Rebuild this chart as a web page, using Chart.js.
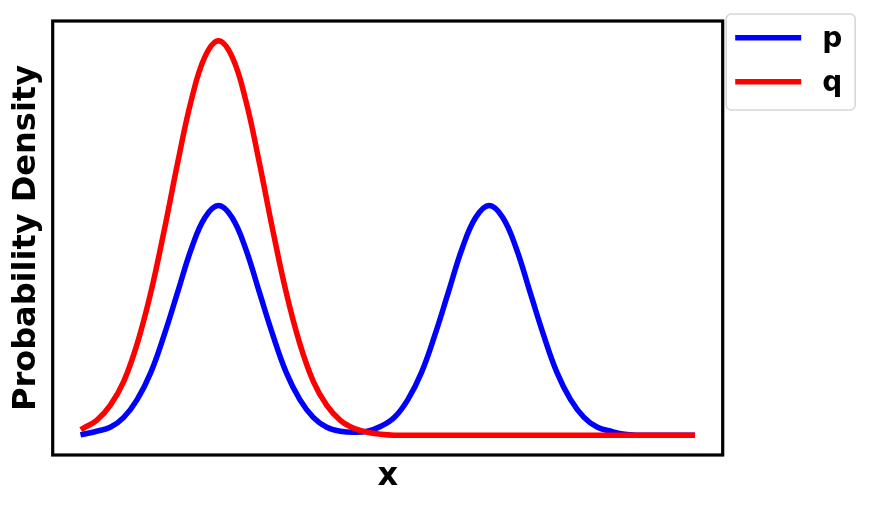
<!DOCTYPE html>
<html>
<head>
<meta charset="utf-8">
<title>p vs q</title>
<script src="https://cdn.jsdelivr.net/npm/chart.js@4/dist/chart.umd.min.js"></script>
<style>
  html, body { margin: 0; padding: 0; background: #fff; }
  #wrap { width: 869px; height: 509px; }
</style>
</head>
<body>
<div id="wrap"><canvas id="chart" width="869" height="509"></canvas></div>
<script>
// ---- data ----
const xValues = [
  0, 0.5, 1, 1.5, 2, 2.5, 3, 3.5, 4, 4.5,
  5, 5.5, 6, 6.5, 7, 7.5, 8, 8.5, 9, 9.5,
  10, 10.5, 11, 11.5, 12, 12.5, 13, 13.5, 14, 14.5,
  15, 15.5, 16, 16.5, 17, 17.5, 18, 18.5, 19, 19.5,
  20, 20.5, 21, 21.5, 22, 22.5
];
const pValues = [
  0.001, 0.004, 0.008, 0.018, 0.036, 0.063, 0.101, 0.144, 0.187, 0.218,
  0.230, 0.218, 0.187, 0.144, 0.101, 0.063, 0.036, 0.018, 0.008, 0.004,
  0.003, 0.004, 0.009, 0.018, 0.036, 0.063, 0.101, 0.144, 0.187, 0.218,
  0.230, 0.218, 0.187, 0.144, 0.101, 0.063, 0.036, 0.018, 0.008, 0.004,
  0.001, 0.000, 0.000, 0.000, 0.000, 0.000
];
const qValues = [
  0.007, 0.015, 0.030, 0.054, 0.092, 0.143, 0.206, 0.274, 0.336, 0.379,
  0.395, 0.379, 0.336, 0.274, 0.206, 0.143, 0.092, 0.054, 0.030, 0.015,
  0.007, 0.003, 0.001, 0.000, 0.000, 0.000, 0.000, 0.000, 0.000, 0.000,
  0.000, 0.000, 0.000, 0.000, 0.000, 0.000, 0.000, 0.000, 0.000, 0.000,
  0.000, 0.000, 0.000, 0.000, 0.000, 0.000
];
const seriesLabels = ['p', 'q'];
const seriesColors = ['#0000ff', '#ff0000'];
const xTitle = 'x';
const yTitle = 'Probability Density';

const FONT = '"DejaVu Sans", "Liberation Sans", sans-serif';

// matplotlib-like 5% margins
const xMin = Math.min(...xValues), xMax = Math.max(...xValues);
const yTop = Math.max(...pValues, ...qValues);
const xPad = (xMax - xMin) * 0.05;
const yPad = yTop * 0.05;

function toPoints(ys) {
  return xValues.map((x, i) => ({ x: x, y: ys[i] }));
}

// black box round the plot area
const framePlugin = {
  id: 'frame',
  afterDatasetsDraw(chart) {
    const { ctx, chartArea: a } = chart;
    ctx.save();
    ctx.strokeStyle = '#000';
    ctx.lineWidth = 3.2;
    ctx.strokeRect(a.left, a.top, a.right - a.left, a.bottom - a.top);
    ctx.restore();
  }
};

// legend sitting outside, right of the plot
const sideLegend = {
  id: 'sideLegend',
  afterDraw(chart) {
    const ctx = chart.ctx;
    const a = chart.chartArea;
    const x0 = a.right + 3.5, y0 = 14, w = 129, h = 96, r = 5;

    ctx.save();
    ctx.beginPath();
    ctx.moveTo(x0 + r, y0);
    ctx.arcTo(x0 + w, y0, x0 + w, y0 + h, r);
    ctx.arcTo(x0 + w, y0 + h, x0, y0 + h, r);
    ctx.arcTo(x0, y0 + h, x0, y0, r);
    ctx.arcTo(x0, y0, x0 + w, y0, r);
    ctx.closePath();
    ctx.fillStyle = '#fff';
    ctx.fill();
    ctx.strokeStyle = '#d6d6d6';
    ctx.lineWidth = 1.5;
    ctx.stroke();

    chart.data.datasets.forEach((ds, i) => {
      const y = 37.7 + i * 44;
      ctx.beginPath();
      ctx.moveTo(x0 + 9, y);
      ctx.lineTo(x0 + 75, y);
      ctx.strokeStyle = ds.borderColor;
      ctx.lineWidth = 5.5;
      ctx.lineCap = 'butt';
      ctx.stroke();

      ctx.fillStyle = '#000';
      ctx.font = 'bold 28px ' + FONT;
      ctx.textBaseline = 'alphabetic';
      ctx.textAlign = 'left';
      ctx.fillText(ds.label, x0 + 96, y + 8.8);
    });
    ctx.restore();
  }
};

new Chart(document.getElementById('chart'), {
  type: 'line',
  data: {
    datasets: [
      {
        label: seriesLabels[0],
        data: toPoints(pValues),
        borderColor: seriesColors[0],
        order: 2
      },
      {
        label: seriesLabels[1],
        data: toPoints(qValues),
        borderColor: seriesColors[1],
        order: 1
      }
    ]
  },
  options: {
    responsive: false,
    animation: false,
    events: [],
    layout: { padding: { top: 21, right: 146.3, bottom: 0, left: 0 } },
    elements: {
      point: { radius: 0 },
      line: {
        borderWidth: 5.5,
        fill: false,
        tension: 0.4,
        borderCapStyle: 'square',
        borderJoinStyle: 'round'
      }
    },
    plugins: {
      legend: { display: false },
      tooltip: { enabled: false }
    },
    scales: {
      x: {
        type: 'linear',
        min: xMin - xPad,
        max: xMax + xPad,
        ticks: { display: false },
        grid: { display: false, drawTicks: false },
        border: { display: false },
        title: {
          display: true,
          text: xTitle,
          color: '#000',
          font: { family: FONT, size: 32, weight: 'bold', lineHeight: 1 },
          padding: { top: 5.7, bottom: 16.3 }
        }
      },
      y: {
        type: 'linear',
        min: -yPad,
        max: yTop + yPad,
        ticks: { display: false },
        grid: { display: false, drawTicks: false },
        border: { display: false },
        title: {
          display: true,
          text: yTitle,
          color: '#000',
          font: { family: FONT, size: 32, weight: 'bold', lineHeight: 1 },
          padding: { top: 10.7, bottom: 10 }
        }
      }
    }
  },
  plugins: [framePlugin, sideLegend]
});
</script>
</body>
</html>
